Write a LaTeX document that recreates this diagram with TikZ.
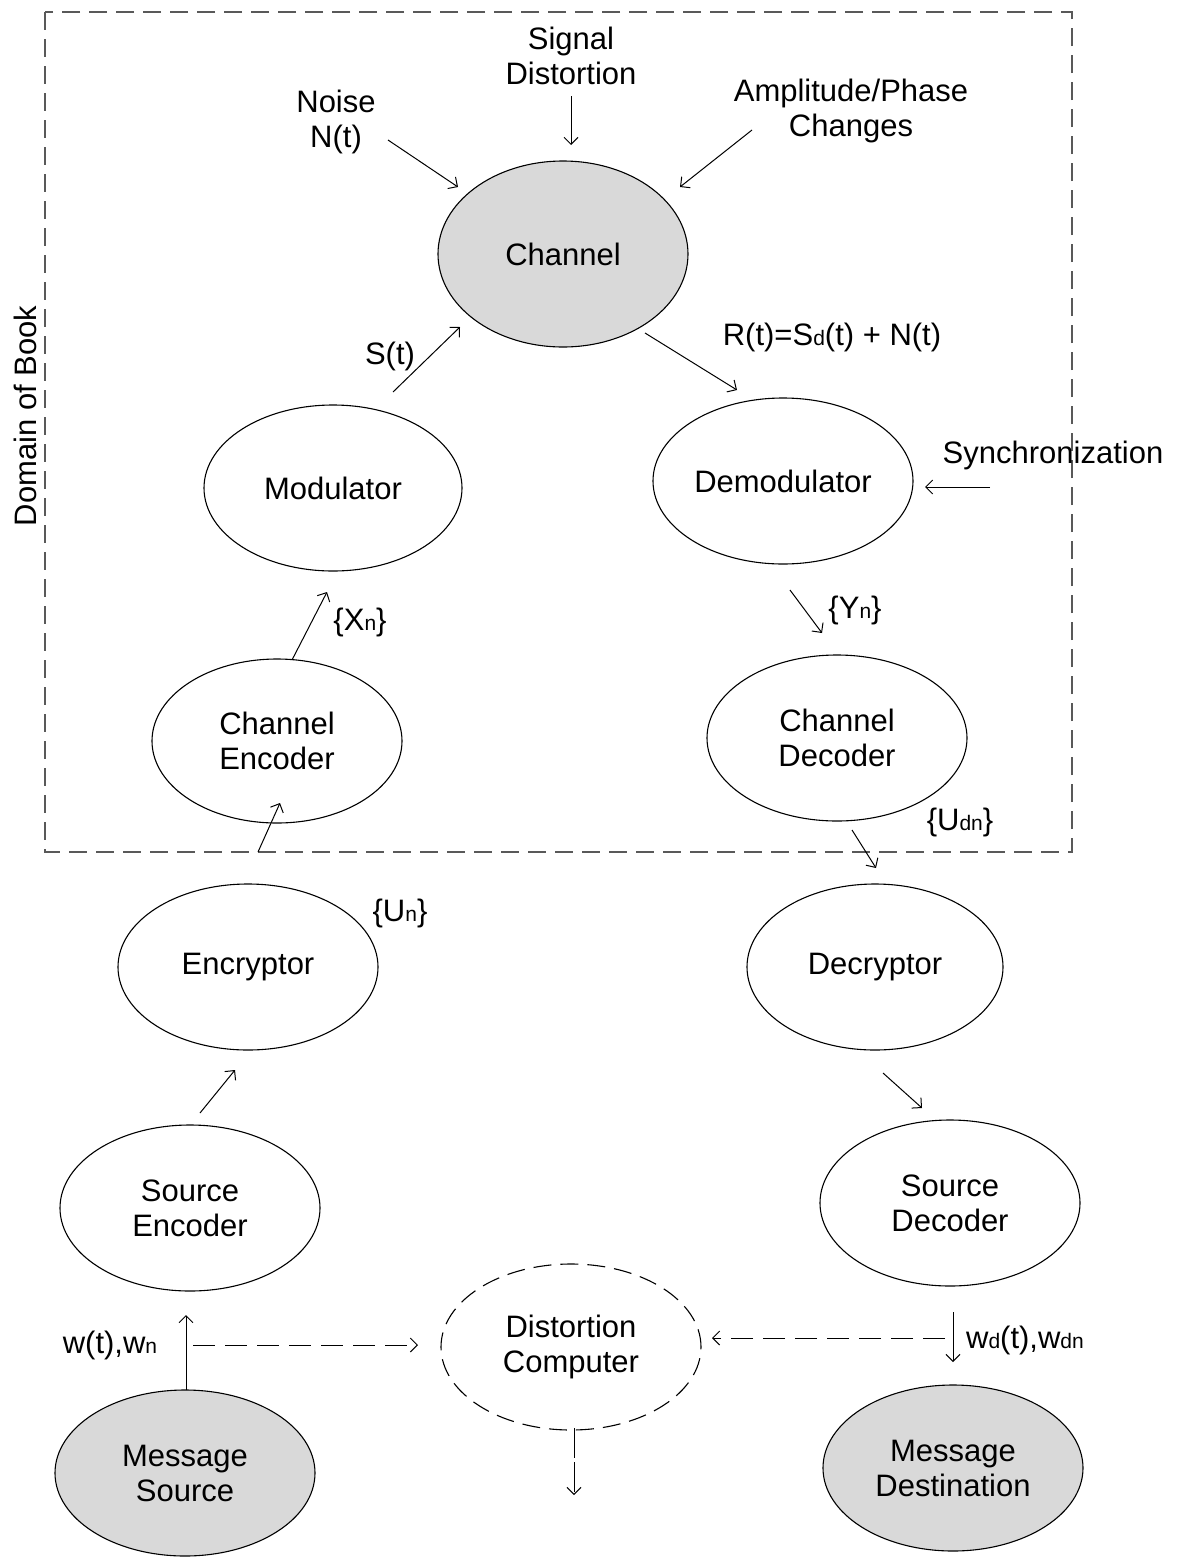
\documentclass[tikz,border=0pt]{standalone}
\usepackage{fontspec}
\setmainfont{Liberation Sans}
\usetikzlibrary{shapes.geometric,arrows.meta}
\newcommand{\lo}[1]{{\fontsize{21}{21}\selectfont #1}}
\begin{document}
\begin{tikzpicture}[x=1pt,y=-1pt,
  every node/.style={font=\fontsize{31}{35}\selectfont, align=center},
  blob/.style={ellipse, draw, line width=1.1pt, inner sep=0pt,
               minimum width=260pt, minimum height=166pt},
  shaded/.style={blob, fill=gray!30},
  arr/.style={line width=1pt, -{Straight Barb[length=7pt,width=14pt]}},
  darr/.style={arr, dash pattern=on 22pt off 10pt},
  lbl/.style={inner sep=0pt}]
\useasboundingbox (0,0) rectangle (1185,1559);

% book boundary
\draw[gray!70!black, line width=1.1pt, dash pattern=on 18pt off 9pt]
  (45,12) rectangle (1072,852);
\node[lbl, rotate=90] (dom) at (25,416) {Domain of Book};

% blocks
\node[shaded, minimum width=250pt, minimum height=186pt] (chan) at (563,254) {Channel};
\node[blob, minimum width=258pt] (mod) at (333,488) {Modulator};
\node[blob] (demod) at (783,481) {Demodulator};
\node[blob, minimum width=250pt, minimum height=164pt] (cenc) at (277,741) {Channel\\Encoder};
\node[blob] (cdec) at (837,738) {Channel\\Decoder};
\node[blob] (encr) at (248,967) {Encryptor};
\node[blob, minimum width=256pt] (decr) at (875,967) {Decryptor};
\node[blob] (senc) at (190,1208) {Source\\Encoder};
\node[blob] (sdec) at (950,1203) {Source\\Decoder};
\node[blob, dashed, dash pattern=on 18pt off 9pt] (dist) at (571,1347) {Distortion\\Computer};
\node[shaded] (msrc) at (185,1473) {Message\\Source};
\node[shaded] (mdst) at (953,1468) {Message\\Destination};

% disturbances acting on the channel
\node[lbl] (sigd) at (571,56) {Signal\\Distortion};
\node[lbl] (noise) at (336,122) {Noise\\N(t)};
\node[lbl] (amp) at (851,111) {Amplitude/Phase\\Changes};
\node[lbl] (sync) at (1053,455) {Synchronization};

\coordinate (n1) at (388,140);  \coordinate (n2) at (458,187);
\coordinate (s1) at (571,96);   \coordinate (s2) at (571,145);
\coordinate (a1) at (752,130);  \coordinate (a2) at (680,187);
\coordinate (y1) at (990,487);  \coordinate (y2) at (925,487);
\draw[arr] (n1) -- (n2);
\draw[arr] (s1) -- (s2);
\draw[arr] (a1) -- (a2);
\draw[arr] (y1) -- (y2);

% transmit chain
\coordinate (t1) at (393,392);  \coordinate (t2) at (460,327);
\coordinate (x1) at (292,660);  \coordinate (x2) at (327,592);
\coordinate (u1) at (258,852);  \coordinate (u2) at (280,803);
\coordinate (e1) at (200,1113); \coordinate (e2) at (235,1070);
\coordinate (m1) at (186,1390); \coordinate (m2) at (186,1315);
\draw[arr] (t1) -- (t2);
\draw[arr] (x1) -- (x2);
\draw[arr] (u1) -- (u2);
\draw[arr] (e1) -- (e2);
\draw[arr] (m1) -- (m2);

% receive chain
\coordinate (r1) at (645,333);  \coordinate (r2) at (737,390);
\coordinate (q1) at (790,590);  \coordinate (q2) at (822,633);
\coordinate (d1) at (852,830);  \coordinate (d2) at (876,868);
\coordinate (k1) at (883,1073); \coordinate (k2) at (922,1108);
\coordinate (w1) at (953,1312); \coordinate (w2) at (953,1362);
\draw[arr] (r1) -- (r2);
\draw[arr] (q1) -- (q2);
\draw[arr] (d1) -- (d2);
\draw[arr] (k1) -- (k2);
\draw[arr] (w1) -- (w2);

% distortion measurement paths
\coordinate (p1) at (193,1345); \coordinate (p2) at (418,1345);
\coordinate (o1) at (945,1338); \coordinate (o2) at (712,1338);
\coordinate (z1) at (574,1428); \coordinate (z2) at (574,1495);
\draw[darr] (p1) -- (p2);
\draw[darr] (o1) -- (o2);
\draw[arr, dash pattern=on 30pt off 4pt] (z1) -- (z2);

% signal labels
\node[lbl] (lst) at (390,356) {S(t)};
\node[lbl] (lrt) at (832,337) {R(t)=S\lo{d}(t) + N(t)};
\node[lbl] (lxn) at (360,622) {\{X\lo{n}\}};
\node[lbl] (lyn) at (855,610) {\{Y\lo{n}\}};
\node[lbl] (lun) at (400,913) {\{U\lo{n}\}};
\node[lbl] (lud) at (960,822) {\{U\lo{dn}\}};
\node[lbl] (lwt) at (110,1345) {w(t),w\lo{n}};
\node[lbl] (lwd) at (1025,1340) {w\lo{d}(t),w\lo{dn}};
\end{tikzpicture}
\end{document}
